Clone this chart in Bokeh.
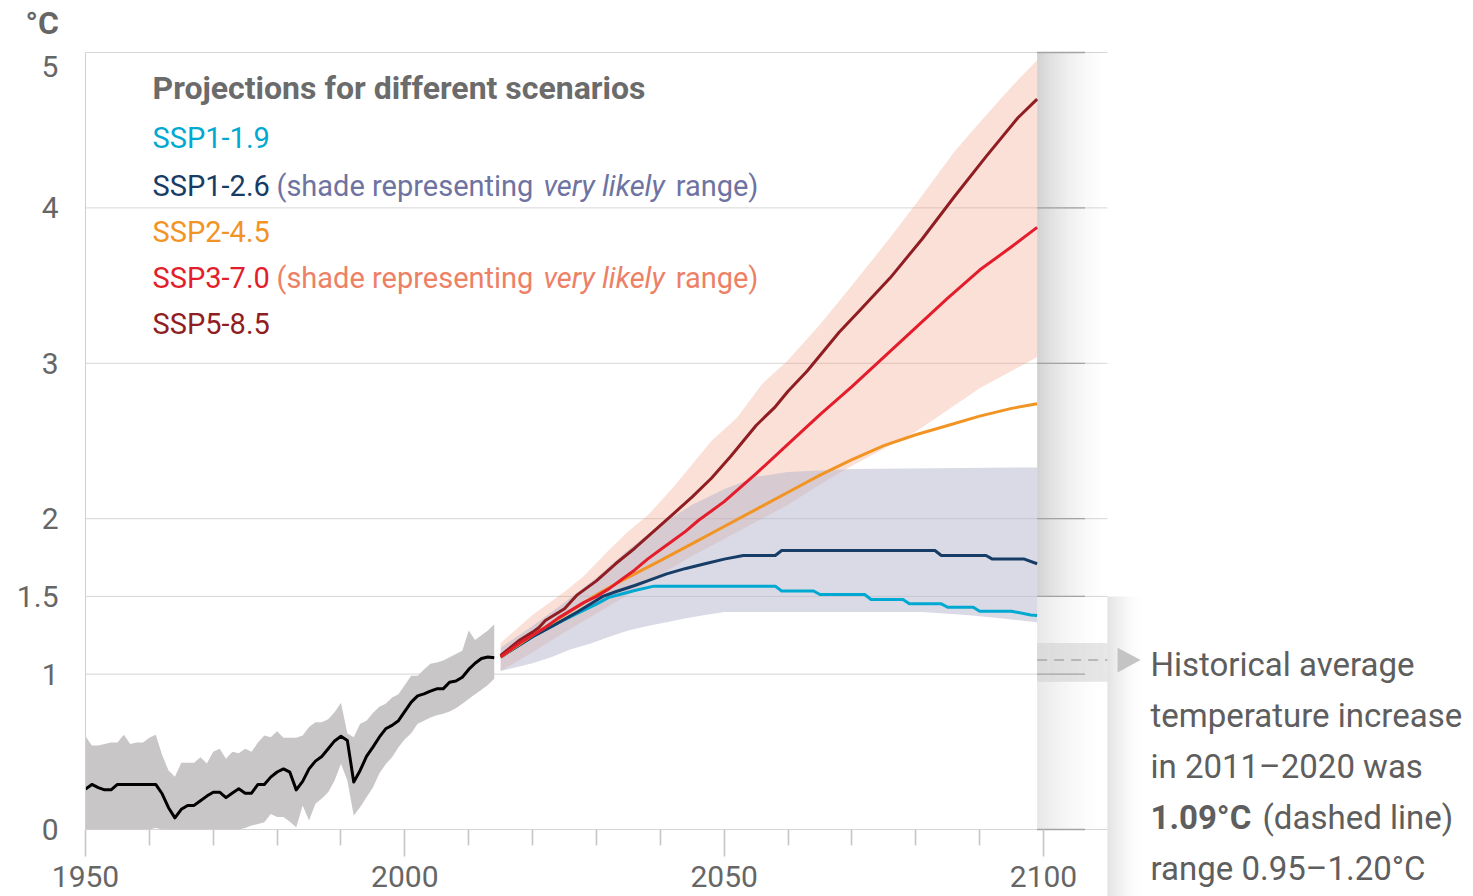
from bokeh.plotting import figure
from bokeh.models import Range1d, FixedTicker, Label
from bokeh.embed import file_html
from bokeh.resources import INLINE

FONT = "Roboto"

# ---------------------------------------------------------------------------
# Observed global surface temperature change (°C, relative to 1850-1900)
# ---------------------------------------------------------------------------
hist_years = list(range(1950, 2015))
hist_mean = [
    0.26, 0.29, 0.27, 0.255, 0.255, 0.29, 0.29, 0.29, 0.29, 0.29,
    0.29, 0.29, 0.23, 0.14, 0.075, 0.13, 0.155, 0.155, 0.185, 0.215,
    0.24, 0.24, 0.205, 0.235, 0.262, 0.234, 0.234, 0.29, 0.29, 0.337,
    0.37, 0.39, 0.369, 0.255, 0.31, 0.39, 0.44, 0.47, 0.52, 0.57,
    0.60, 0.573, 0.305, 0.38, 0.47, 0.53, 0.594, 0.648, 0.67, 0.70,
    0.76, 0.82, 0.86, 0.873, 0.89, 0.905, 0.905, 0.948, 0.955, 0.98,
    1.03, 1.07, 1.10, 1.11, 1.105,
]
hist_high = [
    0.60, 0.54, 0.54, 0.55, 0.56, 0.56, 0.61, 0.55, 0.56, 0.56,
    0.59, 0.61, 0.48, 0.38, 0.34, 0.43, 0.43, 0.43, 0.465, 0.425,
    0.50, 0.52, 0.455, 0.50, 0.49, 0.52, 0.50, 0.56, 0.605, 0.594,
    0.633, 0.59, 0.59, 0.59, 0.605, 0.66, 0.69, 0.69, 0.71, 0.755,
    0.815, 0.62, 0.594, 0.68, 0.70, 0.75, 0.79, 0.81, 0.85, 0.87,
    0.93, 0.99, 0.99, 1.03, 1.066, 1.075, 1.088, 1.109, 1.13, 1.15,
    1.28, 1.22, 1.25, 1.28, 1.32,
]
hist_low = [
    0.0, 0.0, 0.0, 0.0, 0.0, 0.0, 0.0, 0.0, 0.0, 0.0,
    0.0, 0.01, 0.0, 0.0, 0.0, 0.0, 0.0, 0.0, 0.0, 0.0,
    0.0, 0.0, 0.0, 0.0, 0.0, 0.01, 0.026, 0.035, 0.047, 0.10,
    0.08, 0.08, 0.05, 0.015, 0.155, 0.058, 0.165, 0.20, 0.24, 0.315,
    0.423, 0.315, 0.09, 0.143, 0.208, 0.27, 0.36, 0.42, 0.465, 0.53,
    0.58, 0.62, 0.68, 0.70, 0.72, 0.735, 0.745, 0.76, 0.78, 0.809,
    0.84, 0.87, 0.90, 0.93, 0.97,
]

# ---------------------------------------------------------------------------
# Scenario projections (°C)
# ---------------------------------------------------------------------------
ssp119_years = [2015, 2020, 2024, 2027, 2030, 2032, 2036, 2039, 2058, 2059, 2064, 2065,
                2072, 2073, 2078, 2079, 2084, 2085, 2089, 2090, 2095, 2098, 2099]
ssp119 = [1.11, 1.24, 1.33, 1.39, 1.45, 1.495, 1.538, 1.566, 1.566, 1.535, 1.535, 1.512,
          1.512, 1.48, 1.48, 1.452, 1.452, 1.43, 1.43, 1.405, 1.405, 1.38, 1.377]

ssp126_years = [2015, 2020, 2024, 2027, 2029, 2031, 2033, 2036, 2038, 2041, 2044, 2047,
                2050, 2053, 2058, 2059, 2083, 2084, 2091, 2092, 2097, 2099]
ssp126 = [1.11, 1.24, 1.33, 1.40, 1.45, 1.50, 1.53, 1.57, 1.60, 1.645, 1.68, 1.71,
          1.74, 1.763, 1.763, 1.795, 1.795, 1.763, 1.763, 1.74, 1.74, 1.71]

ssp245_years = [2015, 2020, 2025, 2030, 2033, 2036, 2040, 2045, 2050, 2055, 2060, 2065,
                2070, 2075, 2080, 2085, 2090, 2095, 2099]
ssp245 = [1.11, 1.25, 1.38, 1.51, 1.58, 1.645, 1.73, 1.84, 1.95, 2.06, 2.17, 2.28,
          2.38, 2.47, 2.54, 2.60, 2.66, 2.71, 2.74]

ssp370_years = [2015, 2018, 2020, 2022, 2024, 2026, 2028, 2030, 2032, 2034, 2036, 2038,
                2040, 2042, 2044, 2046, 2048, 2050, 2055, 2060, 2065, 2070, 2075, 2080,
                2085, 2090, 2095, 2099]
ssp370 = [1.11, 1.20, 1.25, 1.30, 1.36, 1.41, 1.46, 1.50, 1.55, 1.61, 1.67, 1.74,
          1.80, 1.86, 1.92, 1.99, 2.05, 2.11, 2.29, 2.48, 2.67, 2.85, 3.04, 3.23,
          3.42, 3.60, 3.75, 3.875]

ssp585_years = [2015, 2018, 2020, 2021, 2022, 2025, 2027, 2030, 2033, 2036, 2039, 2042,
                2045, 2048, 2051, 2053, 2055, 2058, 2060, 2063, 2066, 2068, 2071, 2076,
                2081, 2086, 2091, 2096, 2099]
ssp585 = [1.12, 1.22, 1.27, 1.30, 1.345, 1.42, 1.51, 1.60, 1.71, 1.81, 1.92, 2.03,
          2.14, 2.26, 2.40, 2.50, 2.60, 2.72, 2.82, 2.95, 3.10, 3.20, 3.33, 3.55,
          3.80, 4.07, 4.33, 4.58, 4.70]

# very likely ranges
ssp126_hi_years = [2015, 2020, 2025, 2030, 2035, 2040, 2045, 2050, 2055, 2060, 2070, 2099]
ssp126_hi = [1.17, 1.31, 1.46, 1.62, 1.80, 1.96, 2.09, 2.19, 2.27, 2.30, 2.32, 2.33]
ssp126_lo_years = [2015, 2020, 2023, 2026, 2029, 2032, 2035, 2038, 2041, 2044, 2047,
                   2050, 2081, 2088, 2094, 2099]
ssp126_lo = [1.02, 1.07, 1.11, 1.16, 1.195, 1.24, 1.28, 1.31, 1.334, 1.36, 1.38,
             1.40, 1.40, 1.38, 1.356, 1.334]

ssp370_hi_years = [2015, 2020, 2025, 2028, 2032, 2035, 2038, 2042, 2045, 2048, 2052,
                   2056, 2060, 2065, 2070, 2076, 2081, 2086, 2090, 2095, 2099]
ssp370_hi = [1.20, 1.38, 1.53, 1.63, 1.80, 1.92, 2.02, 2.20, 2.35, 2.50, 2.65,
             2.87, 3.02, 3.25, 3.50, 3.81, 4.08, 4.36, 4.55, 4.78, 4.95]
ssp370_lo_years = [2015, 2020, 2025, 2030, 2035, 2040, 2045, 2050, 2055, 2060, 2065,
                   2070, 2075, 2080, 2085, 2090, 2095, 2099]
ssp370_lo = [1.02, 1.14, 1.27, 1.39, 1.51, 1.64, 1.76, 1.87, 1.98, 2.09, 2.22,
             2.34, 2.45, 2.56, 2.70, 2.84, 2.95, 3.04]

# 2011-2020 average and its range
recent_avg = 1.09
recent_lo, recent_hi = 0.95, 1.20

y_ticks = [0, 1, 1.5, 2, 3, 4, 5]
x_major = [1950, 2000, 2050, 2100]
x_minor = [1960, 1970, 1980, 1990, 2010, 2020, 2030, 2040, 2060, 2070, 2080, 2090]

C119, C126, C245, C370, C585 = "#00a9d1", "#173c66", "#f29424", "#e31d2b", "#8f1d22"
GRID = "#d6d6d6"
TEXT = "#666666"

# The plotting area spans the whole canvas; both axes sit at fixed data
# locations so that the scenario note can share the same coordinate system.
W, H = 1473, 896
PX_PER_YEAR = 958 / 150
PX_PER_DEG = 155.4
x_lo = 1950 - 85 / PX_PER_YEAR
x_hi = x_lo + W / PX_PER_YEAR
y_lo = -(H - 829) / PX_PER_DEG
y_hi = y_lo + H / PX_PER_DEG

p = figure(
    width=W, height=H, min_border=0,
    x_range=Range1d(x_lo, x_hi), y_range=Range1d(y_lo, y_hi),
    output_backend="svg", toolbar_location=None,
)
p.outline_line_color = None
p.background_fill_color = "white"
p.border_fill_color = "white"
p.xgrid.visible = False
p.ygrid.visible = False

# axes
xa = p.xaxis[0]
xa.fixed_location = 0
xa.bounds = (1950, 2110)
xa.ticker = FixedTicker(ticks=x_major, minor_ticks=x_minor)
xa.axis_line_color = None
xa.major_tick_line_color = "#c6c6c6"
xa.minor_tick_line_color = "#c6c6c6"
xa.major_tick_line_width = 1.6
xa.minor_tick_line_width = 1.6
xa.major_tick_in = 0
xa.minor_tick_in = 0
xa.major_tick_out = 27
xa.minor_tick_out = 16
xa.major_label_standoff = 9
xa.major_label_text_font = FONT
xa.major_label_text_font_size = "30px"
xa.major_label_text_color = TEXT

ya = p.yaxis[0]
ya.fixed_location = 1950
ya.bounds = (0, 5)
ya.ticker = FixedTicker(ticks=y_ticks)
ya.axis_line_color = "#cfcfcf"
ya.major_tick_line_color = None
ya.minor_tick_line_color = None
ya.major_tick_out = 0
ya.major_label_standoff = 27
ya.major_label_text_font = FONT
ya.major_label_text_font_size = "30px"
ya.major_label_text_color = TEXT
# the top value is written just under its grid line (see label below)
ya.major_label_overrides = {1.5: "1.5", 0: "0", 1: "1", 2: "2", 3: "3", 4: "4", 5: ""}

# horizontal grid lines between 1950 and 2110
p.segment(x0=[1950] * len(y_ticks), x1=[2110] * len(y_ticks), y0=y_ticks, y1=y_ticks,
          line_color=GRID, line_width=1)

# shaded strip at the end of the century, fading to the right
n_fade = 24
x0, x1 = 2099, 2110
step = (x1 - x0) / n_fade
lefts = [x0 + i * step for i in range(n_fade)]
rights = [x0 + (i + 1) * step for i in range(n_fade)]
p.quad(left=lefts, right=rights, bottom=1.5, top=5, fill_color="#a8a8a8",
       fill_alpha=[0.5 * (1 - i / n_fade) ** 1.8 for i in range(n_fade)], line_color=None)
p.quad(left=lefts, right=rights, bottom=0, top=1.5, fill_color="#b4b4b4",
       fill_alpha=[0.3 * (1 - i / n_fade) ** 1.8 for i in range(n_fade)], line_color=None)

# 2011-2020 range and average
p.quad(left=[2099], right=[2110], bottom=[recent_lo], top=[recent_hi],
       fill_color="#e8e8e8", line_color=None)
p.quad(left=lefts, right=rights, bottom=recent_lo, top=recent_hi, fill_color="#bdbdbd",
       fill_alpha=[0.3 * (1 - i / n_fade) for i in range(n_fade)], line_color=None)

# darker grid marks inside the strip
p.segment(x0=[2099] * len(y_ticks), x1=[2106.5] * len(y_ticks), y0=y_ticks, y1=y_ticks,
          line_color="#a3a3a3", line_width=1.3)
p.segment(x0=[2099], x1=[2110], y0=[recent_avg], y1=[recent_avg],
          line_color="#a9a9a9", line_width=1.5, line_dash="10 7")

# callout strip and arrow pointing to the note
n_out = 12
out_x0, out_x1 = 2110, 2115.2
out_step = (out_x1 - out_x0) / n_out
p.quad(left=[out_x0 + i * out_step for i in range(n_out)],
       right=[out_x0 + (i + 1) * out_step for i in range(n_out)],
       bottom=y_lo, top=1.5, fill_color="#bcbcbc",
       fill_alpha=[0.4 * (1 - i / n_out) ** 1.5 for i in range(n_out)], line_color=None)
p.patch([2111.6, 2111.6, 2115.2], [recent_avg + 0.08, recent_avg - 0.08, recent_avg],
        fill_color="#c4c4c4", line_color=None)

# historical range and mean
p.varea(x=hist_years, y1=hist_low, y2=hist_high, fill_color="#c9c6c7")

# scenario ranges
p.patch(ssp370_hi_years + ssp370_lo_years[::-1], ssp370_hi + ssp370_lo[::-1],
        fill_color="#ee987c", fill_alpha=0.3, line_color=None)
p.patch(ssp126_hi_years + ssp126_lo_years[::-1], ssp126_hi + ssp126_lo[::-1],
        fill_color="#b3b5cb", fill_alpha=0.5, line_color=None)

p.line(hist_years, hist_mean, line_color="black", line_width=3, line_join="round")
for yrs, vals, col in [
    (ssp119_years, ssp119, C119),
    (ssp126_years, ssp126, C126),
    (ssp245_years, ssp245, C245),
    (ssp585_years, ssp585, C585),
    (ssp370_years, ssp370, C370),
]:
    p.line(yrs, vals, line_color=col, line_width=3, line_join="round")


def label(x, y, text, color, size, style="normal", align="left"):
    p.add_layout(Label(x=x, y=y, text=text, text_color=color, text_font=FONT,
                       text_font_size=size, text_font_style=style,
                       text_baseline="middle", text_align=align))


# unit label and the top axis value
label(1940.6, 5.19, "°C", TEXT, "32px", "bold")
label(1945.77, 4.91, "5", TEXT, "30px", align="right")

# scenario key
KEY = "29px"
label(1960.5, 4.77, "Projections for different scenarios", "#6b6b6b", "32px", "bold")
label(1960.5, 4.447, "SSP1-1.9", C119, KEY)
label(1960.5, 4.144, "SSP1-2.6", C126, KEY)
label(1979.9, 4.144, "(shade representing", "#6e73a1", KEY)
label(2021.7, 4.144, "very likely", "#6e73a1", KEY, "italic")
label(2042.4, 4.144, "range)", "#6e73a1", KEY)
label(1960.5, 3.848, "SSP2-4.5", C245, KEY)
label(1960.5, 3.546, "SSP3-7.0", C370, KEY)
label(1979.9, 3.546, "(shade representing", "#ec8166", KEY)
label(2021.7, 3.546, "very likely", "#ec8166", KEY, "italic")
label(2042.4, 3.546, "range)", "#ec8166", KEY)
label(1960.5, 3.256, "SSP5-8.5", C585, KEY)

# note on the recent decade
NOTE = "#5e5e5e"
NOTE_SIZE = "33px"
label(2116.75, 1.062, "Historical average", NOTE, NOTE_SIZE)
label(2116.75, 0.734, "temperature increase", NOTE, NOTE_SIZE)
label(2116.75, 0.405, "in 2011–2020 was", NOTE, NOTE_SIZE)
label(2116.75, 0.077, f"{recent_avg:.2f}°C", NOTE, NOTE_SIZE, "bold")
label(2134.3, 0.077, "(dashed line)", NOTE, NOTE_SIZE)
label(2116.75, -0.251, f"range {recent_lo:.2f}–{recent_hi:.2f}°C", NOTE, NOTE_SIZE)

open("out.html", "w").write(file_html(p, INLINE))
